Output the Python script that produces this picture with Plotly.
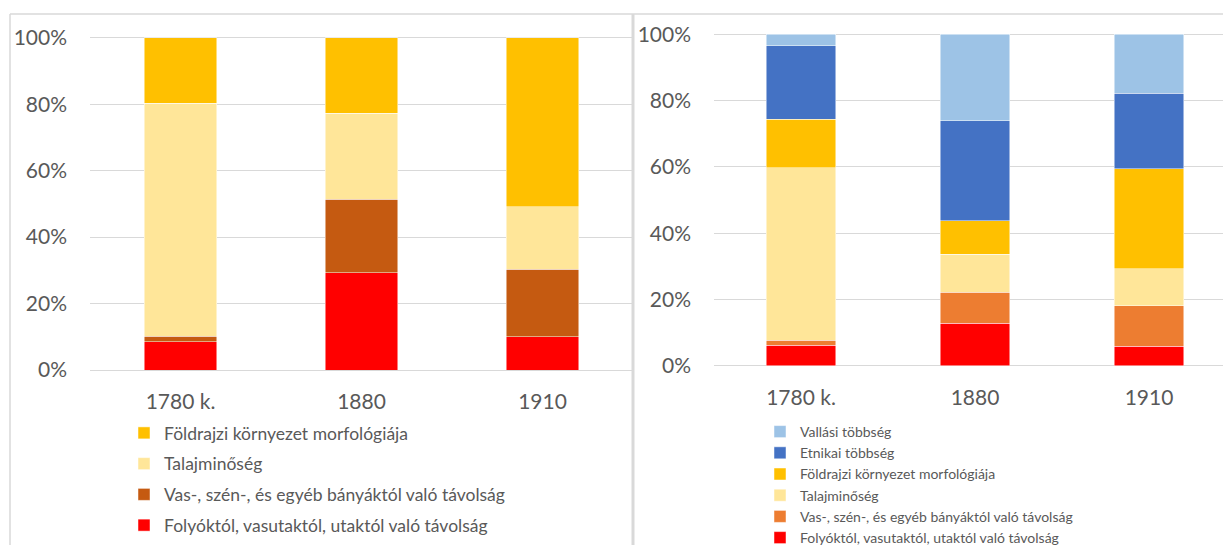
import plotly.graph_objects as go

W, H = 1223, 545

categories = ["1780 k.", "1880", "1910"]

# Left chart (bottom -> top), percentages
left_names = [
    "Folyóktól, vasutaktól, utaktól való távolság",
    "Vas-, szén-, és egyéb bányáktól való távolság",
    "Talajminőség",
    "Földrajzi környezet morfológiája",
]
left_folyo = [8.5, 29.3, 10.0]
left_vas = [1.7, 22.1, 20.3]
left_talaj = [70.1, 25.9, 18.9]
left_foldrajzi = [19.7, 22.7, 50.8]
left_colors = ["#FF0000", "#C55A11", "#FFE699", "#FFC000"]

# Right chart (bottom -> top), percentages
right_names = [
    "Folyóktól, vasutaktól, utaktól való távolság",
    "Vas-, szén-, és egyéb bányáktól való távolság",
    "Talajminőség",
    "Földrajzi környezet morfológiája",
    "Etnikai többség",
    "Vallási többség",
]
right_folyo = [6.2, 12.8, 5.9]
right_vas = [1.5, 9.4, 12.2]
right_talaj = [52.1, 11.5, 11.1]
right_foldrajzi = [14.6, 10.1, 30.2]
right_etnikai = [22.1, 30.1, 22.8]
right_vallasi = [3.5, 26.1, 17.8]
right_colors = ["#FF0000", "#ED7D31", "#FFE699", "#FFC000", "#4472C4", "#9DC3E6"]

y_ticks = [0, 20, 40, 60, 80, 100]
y_ticktext = ["0%", "20%", "40%", "60%", "80%", "100%"]

FONT = "Lato"
TXT = "#595959"
GRID = "#D9D9D9"

fig = go.Figure()

left_series = [left_folyo, left_vas, left_talaj, left_foldrajzi]
nL = len(left_series)
for i, (name, vals, col) in enumerate(zip(left_names, left_series, left_colors)):
    fig.add_trace(go.Bar(
        x=categories, y=vals, name=name, marker_color=col,
        marker_line=dict(color="rgba(255,255,255,0.6)", width=0.8),
        width=0.4, xaxis="x", yaxis="y", legend="legend",
        legendgroup="L%d" % i, legendrank=nL - i, hoverinfo="skip",
    ))

right_series = [right_folyo, right_vas, right_talaj, right_foldrajzi, right_etnikai, right_vallasi]
nR = len(right_series)
for i, (name, vals, col) in enumerate(zip(right_names, right_series, right_colors)):
    fig.add_trace(go.Bar(
        x=categories, y=vals, name=name, marker_color=col,
        marker_line=dict(color="rgba(255,255,255,0.6)", width=0.8),
        width=0.4, xaxis="x2", yaxis="y2", legend="legend2",
        legendrank=nR - i, hoverinfo="skip",
    ))

def px_x(p):
    return p / W

def px_y(p):
    return 1 - p / H

tickfont = dict(family=FONT, size=21, color=TXT)
yaxis_common = dict(
    range=[0, 101], tickmode="array", tickvals=y_ticks, ticktext=y_ticktext,
    showgrid=True, gridcolor=GRID, gridwidth=1.3,
    zeroline=True, zerolinecolor=GRID, zerolinewidth=1.3,
    showline=False, ticks="", tickfont=tickfont,
    fixedrange=True, ticklabelstandoff=22,
)

fig.update_layout(
    width=W, height=H,
    margin=dict(l=0, r=0, t=0, b=0, autoexpand=False),
    paper_bgcolor="white", plot_bgcolor="white",
    barmode="stack",
    font=dict(family=FONT, color=TXT),
    xaxis=dict(domain=[px_x(90), px_x(633)], range=[-0.5, 2.5], anchor="y",
               showline=False, ticks="", tickfont=tickfont, ticklabelstandoff=17,
               fixedrange=True),
    yaxis=dict(domain=[px_y(370), px_y(34.4)], anchor="x", **yaxis_common),
    xaxis2=dict(domain=[px_x(714), 1.0], range=[-0.5, 2.425], anchor="y2",
                showline=False, ticks="", tickfont=tickfont, ticklabelstandoff=17,
                fixedrange=True),
    yaxis2=dict(domain=[px_y(365.7), px_y(31.0)], anchor="x2", **yaxis_common),
    legend=dict(
        x=px_x(124), y=px_y(415), xanchor="left", yanchor="top",
        traceorder="grouped", tracegroupgap=5,
        font=dict(family=FONT, size=17.5, color=TXT), bgcolor="rgba(0,0,0,0)",
    ),
    legend2=dict(
        x=px_x(760), y=px_y(416), xanchor="left", yanchor="top",
        traceorder="normal",
        font=dict(family=FONT, size=14, color=TXT), bgcolor="rgba(0,0,0,0)",
    ),
    shapes=[
        dict(type="line", xref="paper", yref="paper", x0=px_x(10), x1=1.0,
             y0=px_y(14), y1=px_y(14), line=dict(color=GRID, width=1.5)),
        dict(type="line", xref="paper", yref="paper", x0=px_x(10), x1=px_x(10),
             y0=px_y(14), y1=0, line=dict(color=GRID, width=1.5)),
        dict(type="line", xref="paper", yref="paper", x0=px_x(633), x1=px_x(633),
             y0=px_y(14), y1=0, line=dict(color=GRID, width=3)),
    ],
    showlegend=True,
)

fig.write_html(
    "out.html",
    config={"displayModeBar": False},
    post_script="document.body.style.margin='0';document.body.style.overflow='hidden';",
)
